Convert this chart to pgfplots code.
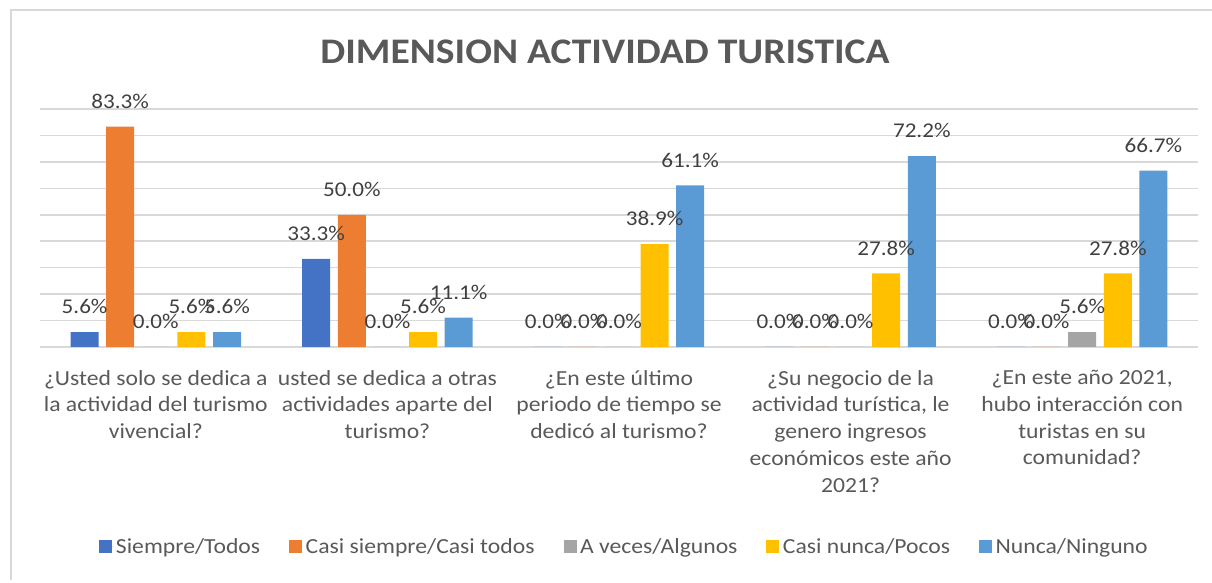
\documentclass[border=0pt]{standalone}
\usepackage{pgfplots}
\pgfplotsset{compat=1.18}
\usepackage{fontspec}
\setmainfont[FakeStretch=1.1]{Carlito}
\definecolor{cA}{HTML}{4472C4}
\definecolor{cB}{HTML}{ED7D31}
\definecolor{cC}{HTML}{A5A5A5}
\definecolor{cD}{HTML}{FFC000}
\definecolor{cE}{HTML}{5B9BD5}
\definecolor{gridc}{HTML}{D9D9D9}
\definecolor{txt}{HTML}{595959}
\definecolor{lbl}{HTML}{404040}
\begin{document}
\begin{tikzpicture}
\path[use as bounding box] (0pt,0pt) rectangle (1212pt,583pt);
\draw[color=gridc, line width=1.3pt] (11pt,3pt) -- (11pt,573pt) -- (1212pt,573pt);
\node[font=\fontsize{36}{40}\selectfont\bfseries, text=txt] at (605pt,531pt) {DIMENSION ACTIVIDAD TURISTICA};
\begin{axis}[
  at={(40pt,236pt)}, anchor=south west,
  scale only axis, width=1158pt, height=238pt,
  xmin=-0.5, xmax=4.5, ymin=0, ymax=90,
  ybar=7.6pt, bar width=28pt,
  axis line style={draw=none},
  major tick length=0pt,
  ymajorgrids, grid style={color=gridc, line width=1.5pt},
  ytick={0,10,...,90}, yticklabels={},
  xtick={0,1,2,3,4},
  xticklabels={{¿Usted solo se dedica a\\la actividad del turismo\\vivencial?},
               {usted se dedica a otras\\actividades aparte del\\turismo?},
               {¿En este último\\periodo de tiempo se\\dedicó al turismo?},
               {¿Su negocio de la\\actividad turística, le\\genero ingresos\\económicos este año\\2021?},
               {¿En este año 2021,\\hubo interacción con\\turistas en su\\comunidad?}},
  xticklabel style={font=\fontsize{21.5}{26.75}\selectfont, align=center, text=txt, anchor=north, inner sep=0pt, yshift=-23pt},
  clip=false,
  nodes near coords={\pgfmathprintnumber[fixed,fixed zerofill,precision=1,assume math mode=true]{\pgfplotspointmeta}\%},
  every node near coord/.append style={font=\fontsize{21}{24}\selectfont, text=lbl, anchor=center, yshift=25.5pt},
  legend columns=5,
  legend style={at={(0.5048,-0.8395)}, anchor=center, draw=none, fill=none,
    font=\fontsize{21.5}{24}\selectfont, text=txt,
    /tikz/every even column/.append style={column sep=27pt}},
  legend image code/.code={\fill[#1,draw=none] (0pt,-6.5pt) rectangle (13pt,6.5pt); \path (0pt,0pt) -- (14.5pt,0pt);},
]
\addplot[fill=cA, draw=none] coordinates {(0,5.6) (1,33.3) (2,0) (3,0) (4,0)};
\addplot[fill=cB, draw=none] coordinates {(0,83.3) (1,50.0) (2,0) (3,0) (4,0)};
\addplot[fill=cC, draw=none] coordinates {(0,0) (1,0) (2,0) (3,0) (4,5.6)};
\addplot[fill=cD, draw=none] coordinates {(0,5.6) (1,5.6) (2,38.9) (3,27.8) (4,27.8)};
\addplot[fill=cE, draw=none] coordinates {(0,5.6) (1,11.1) (2,61.1) (3,72.2) (4,66.7)};
\legend{Siempre/Todos, Casi siempre/Casi todos, A veces/Algunos, Casi nunca/Pocos, Nunca/Ninguno}
\end{axis}
\end{tikzpicture}
\end{document}
